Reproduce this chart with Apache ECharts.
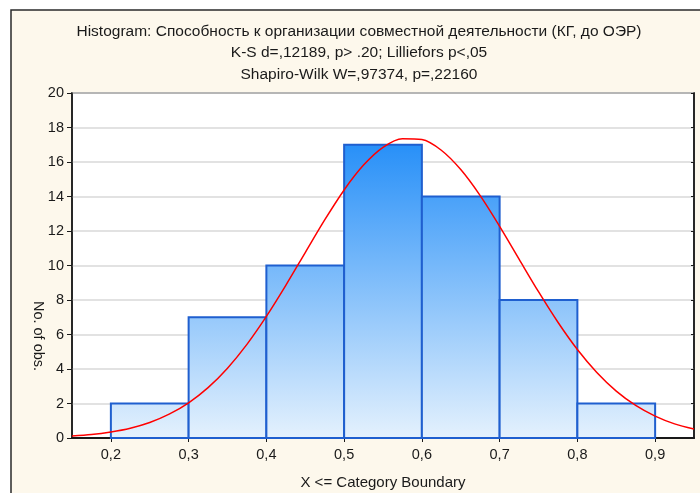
<!DOCTYPE html>
<html>
<head>
<meta charset="utf-8">
<script src="https://cdn.jsdelivr.net/npm/echarts@6/dist/echarts.min.js"></script>
<style>
  html, body { margin: 0; padding: 0; background: #ffffff; }
  #chart { width: 700px; height: 493px; }
</style>
</head>
<body>
<div id="chart"></div>
<script>
// Histogram bins (upper boundary of each category) and observed counts
const binStart = [0.2, 0.3, 0.4, 0.5, 0.6, 0.7, 0.8];
const binEnd   = [0.3, 0.4, 0.5, 0.6, 0.7, 0.8, 0.9];
const counts   = [2, 7, 10, 17, 14, 8, 2];

// Expected normal curve, read along the category axis
const curveX = [0.15, 0.175, 0.2, 0.225, 0.25, 0.275, 0.3, 0.325, 0.35, 0.375, 0.4, 0.425,
                0.45, 0.475, 0.5, 0.525, 0.55, 0.575, 0.6, 0.625, 0.65, 0.675, 0.7, 0.725,
                0.75, 0.775, 0.8, 0.825, 0.85, 0.875, 0.9, 0.925, 0.95];
const curveY = [0.12, 0.2, 0.35, 0.57, 0.9, 1.38, 2.04, 2.92, 4.05, 5.43, 7.05, 8.85,
                10.75, 12.64, 14.38, 15.82, 16.85, 17.35, 17.3, 16.68, 15.56, 14.05, 12.27, 10.37,
                8.48, 6.71, 5.13, 3.8, 2.72, 1.89, 1.27, 0.82, 0.52];

// Axis tick labels
const xTicks = [0.2, 0.3, 0.4, 0.5, 0.6, 0.7, 0.8, 0.9];
const yTicks = [0, 2, 4, 6, 8, 10, 12, 14, 16, 18, 20];

const titleLines = [
  'Histogram: Способность к организации совместной деятельности (КГ, до ОЭР)',
  'K-S d=,12189, p> .20; Lilliefors p<,05',
  'Shapiro-Wilk W=,97374, p=,22160'
];
const xName = 'X <= Category Boundary';
const yName = 'No. of obs.';

const FONT = '"Liberation Sans", Arial, sans-serif';
const chart = echarts.init(document.getElementById('chart'), null, { renderer: 'canvas' });

const barData = binStart.map((s, i) => [s, binEnd[i], counts[i]]);
const curveData = curveX.map((x, i) => [x, curveY[i]]);
const fmt = v => String(v).replace('.', ',');

const titleGraphics = titleLines.map((t, i) => ({
  type: 'text',
  z: 10,
  style: {
    text: t, x: 359, y: 31.5 + i * 21.5,
    textAlign: 'center', textVerticalAlign: 'middle',
    font: '15.5px ' + FONT, fill: '#1a1a1a'
  }
}));

chart.setOption({
  animation: false,
  backgroundColor: '#ffffff',
  graphic: [
    {
      type: 'rect', z: -10, silent: true,
      shape: { x: 11, y: 10, width: 720, height: 520 },
      style: { fill: '#fdf8ec', stroke: '#2a2a2a', lineWidth: 1.5 }
    },
    ...titleGraphics,
    {
      type: 'text', z: 10,
      x: 38, y: 336, rotation: -Math.PI / 2,
      style: {
        text: yName, x: 0, y: 0,
        textAlign: 'center', textVerticalAlign: 'middle',
        font: '14.5px ' + FONT, fill: '#1a1a1a'
      }
    }
  ],
  grid: {
    left: 72, top: 93, right: 6, bottom: 55,
    outerBoundsMode: 'none',
    show: true, backgroundColor: '#ffffff', borderColor: '#1a1a1a', borderWidth: 1.5
  },
  xAxis: [
    {
      type: 'value', position: 'bottom', min: 0.15, max: 0.95,
      name: xName, nameLocation: 'middle', nameGap: 37,
      nameTextStyle: { fontFamily: FONT, fontSize: 15, color: '#1a1a1a' },
      axisLine: { show: true, lineStyle: { color: '#1a1a1a', width: 2 } },
      axisTick: { show: true, inside: true, length: 4, customValues: xTicks, lineStyle: { color: '#1a1a1a' } },
      axisLabel: { customValues: xTicks, formatter: fmt, margin: 9, fontFamily: FONT, fontSize: 14.5, color: '#1a1a1a' },
      splitLine: { show: false }
    },
    {
      type: 'value', position: 'top', min: 0.15, max: 0.95,
      axisLine: { show: true, lineStyle: { color: '#1a1a1a', width: 1.5 } },
      axisTick: { show: true, inside: true, length: 4, customValues: xTicks, lineStyle: { color: '#1a1a1a' } },
      axisLabel: { show: false },
      splitLine: { show: false }
    }
  ],
  yAxis: [
    {
      type: 'value', position: 'left', min: 0, max: 20, interval: 2,
      axisLine: { show: true, lineStyle: { color: '#1a1a1a', width: 1.5 } },
      axisTick: { show: true, inside: false, length: 5, lineStyle: { color: '#1a1a1a' } },
      axisLabel: { margin: 8, fontFamily: FONT, fontSize: 14.5, color: '#1a1a1a',
                   formatter: v => (yTicks.indexOf(v) >= 0 ? String(v) : '') },
      splitLine: { show: true, lineStyle: { color: '#d9d9d9', width: 1.5 } }
    },
    {
      type: 'value', position: 'right', min: 0, max: 20, interval: 2,
      axisLine: { show: true, lineStyle: { color: '#1a1a1a', width: 1.5 } },
      axisTick: { show: true, inside: true, length: 3, lineStyle: { color: '#1a1a1a' } },
      axisLabel: { show: false },
      splitLine: { show: false }
    }
  ],
  series: [
    {
      type: 'custom',
      name: 'counts',
      xAxisIndex: 0, yAxisIndex: 0,
      data: barData,
      encode: { x: [0, 1], y: 2 },
      renderItem: function (params, api) {
        const topLeft = api.coord([api.value(0), api.value(2)]);
        const bottomRight = api.coord([api.value(1), 0]);
        const yHigh = api.coord([0.5, 17])[1];
        const yLow = api.coord([0.5, 0])[1];
        return {
          type: 'rect',
          shape: {
            x: topLeft[0], y: topLeft[1],
            width: bottomRight[0] - topLeft[0],
            height: bottomRight[1] - topLeft[1]
          },
          style: {
            fill: new echarts.graphic.LinearGradient(0, yHigh, 0, yLow, [
              { offset: 0, color: '#2890f8' },
              { offset: 1, color: '#e4f1fd' }
            ], true),
            stroke: '#1f5fcf',
            lineWidth: 2
          }
        };
      }
    },
    {
      type: 'line',
      name: 'normal',
      xAxisIndex: 0, yAxisIndex: 0,
      data: curveData,
      smooth: 0.3,
      showSymbol: false,
      lineStyle: { color: '#ff0000', width: 1.5 },
      z: 5
    }
  ]
});
</script>
</body>
</html>
